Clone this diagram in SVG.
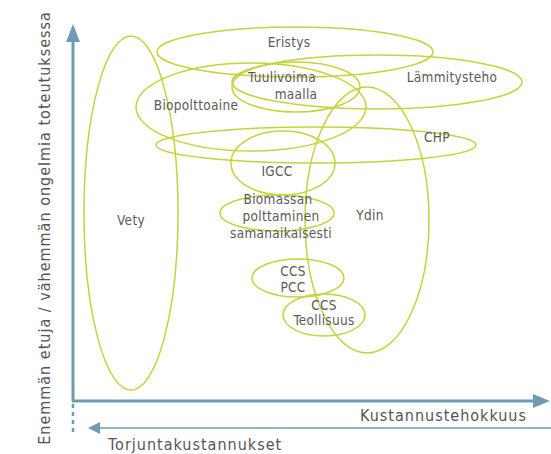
<svg xmlns="http://www.w3.org/2000/svg" width="551" height="454" viewBox="0 0 551 454">
<style>
.e{fill:none;stroke:#c3d43a;stroke-width:1.5}
.t{font-family:"DejaVu Sans Condensed","Liberation Sans Narrow","Liberation Sans",sans-serif;font-size:13.5px;fill:#5a5a5a;text-anchor:middle;letter-spacing:0.3px}
.ax{stroke:#6f9bb6;fill:none}
.al{font-family:"DejaVu Sans Condensed","Liberation Sans Narrow","Liberation Sans",sans-serif;font-size:16px;fill:#555;letter-spacing:1px}
</style>
<rect width="551" height="454" fill="#fff"/>
<g id="axes">
<line class="ax" x1="73" y1="401" x2="73" y2="40" stroke-width="3"/>
<polygon points="73,24 66,42 80,42" fill="#6f9bb6"/>
<line class="ax" x1="72" y1="401" x2="536" y2="401" stroke-width="3"/>
<polygon points="550,401 533,394 533,408" fill="#6f9bb6"/>
<line class="ax" x1="73" y1="404" x2="73" y2="434" stroke-width="2.5" stroke-dasharray="4,4"/>
<line class="ax" x1="96" y1="428" x2="551" y2="428" stroke-width="1.5"/>
<polygon points="88,428 100,422 100,434" fill="#6f9bb6"/>
<text class="al" transform="translate(50,228) rotate(-90)" text-anchor="middle">Enemmän etuja / vähemmän ongelmia toteutuksessa</text>
<text class="al" x="527" y="421" text-anchor="end">Kustannustehokkuus</text>
<text class="al" x="108" y="450">Torjuntakustannukset</text>
</g>
<g id="vety"><ellipse class="e" cx="131" cy="213" rx="47" ry="177"/><text class="t" x="131" y="225">Vety</text></g>
<g id="eristys"><ellipse class="e" cx="295" cy="52" rx="138" ry="25"/><text class="t" x="289" y="47">Eristys</text></g>
<g id="lammitysteho"><ellipse class="e" cx="377" cy="82" rx="145" ry="27"/><text class="t" x="452" y="82">Lämmitysteho</text></g>
<g id="tuulivoima"><ellipse class="e" cx="296" cy="87" rx="64" ry="25"/><text class="t" x="282" y="82">Tuulivoima</text><text class="t" x="296" y="99">maalla</text></g>
<g id="biopolttoaine"><ellipse class="e" cx="251" cy="107" rx="115" ry="44"/><text class="t" x="196" y="110">Biopolttoaine</text></g>
<g id="chp"><ellipse class="e" cx="316" cy="145" rx="160" ry="18"/><text class="t" x="437" y="142">CHP</text></g>
<g id="igcc"><ellipse class="e" cx="283" cy="163" rx="52" ry="32"/><text class="t" x="277" y="176">IGCC</text></g>
<g id="ydin"><ellipse class="e" cx="367" cy="220" rx="62" ry="133"/><text class="t" x="370" y="220">Ydin</text></g>
<g id="biomassan"><ellipse class="e" cx="277" cy="213" rx="57" ry="18"/><text class="t" x="278" y="204">Biomassan</text><text class="t" x="281" y="221">polttaminen</text><text class="t" x="281" y="238">samanaikaisesti</text></g>
<g id="ccs-pcc"><ellipse class="e" cx="298" cy="278" rx="46" ry="19"/><text class="t" x="293" y="276">CCS</text><text class="t" x="293" y="292">PCC</text></g>
<g id="ccs-teollisuus"><ellipse class="e" cx="324" cy="315" rx="41" ry="21"/><text class="t" x="324" y="310">CCS</text><text class="t" x="324" y="325">Teollisuus</text></g>
</svg>
